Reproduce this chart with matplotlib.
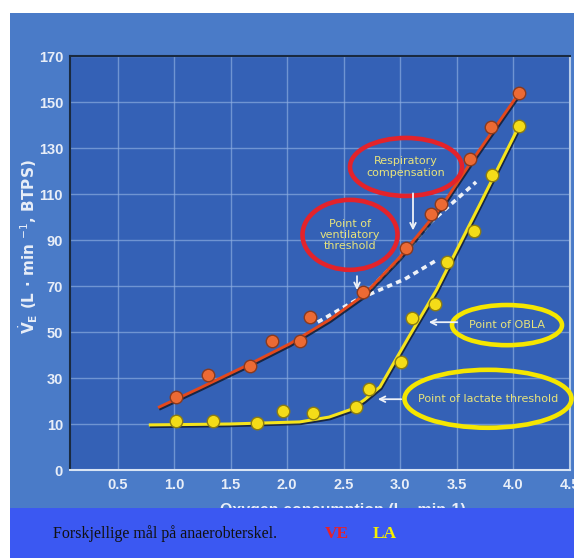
import matplotlib
matplotlib.use('Agg')
import numpy as np
import matplotlib.pyplot as plt
from matplotlib.patches import Ellipse, Rectangle
import matplotlib.patheffects as pe

# VE points (red) - oxygen consumption vs ventilation
ve_x = [1.02, 1.30, 1.67, 1.87, 2.11, 2.20, 2.67, 3.05, 3.27, 3.36, 3.62, 3.80, 4.05]
ve_y = [21.7, 31.3, 35.2, 46.1, 46.1, 56.5, 67.4, 86.5, 101.3, 105.7, 125.2, 139.1, 153.9]

# LA points (yellow)
la_x = [1.02, 1.34, 1.73, 1.96, 2.23, 2.61, 2.72, 3.01, 3.10, 3.31, 3.41, 3.65, 3.81, 4.05]
la_y = [11.3, 11.3, 10.4, 15.7, 14.8, 17.4, 25.2, 37.0, 56.1, 62.2, 80.4, 93.9, 118.3, 139.6]

# fitted lines
ve_fit_x = [0.87, 1.23, 1.67, 2.02, 2.37, 2.67, 2.99, 3.36, 3.62, 4.05]
ve_fit_y = [17.4, 25.7, 36.1, 44.8, 55.2, 65.7, 82.2, 104.3, 123.5, 153.9]
la_fit_x = [0.79, 1.49, 2.11, 2.37, 2.55, 2.68, 2.82, 3.08, 3.32, 3.70, 4.05]
la_fit_y = [9.8, 10.0, 10.9, 13.0, 16.1, 20.4, 26.1, 48.3, 68.3, 105.2, 139.6]

# white dashed extrapolations
dash_low_x = [2.27, 2.61, 3.04, 3.31]
dash_low_y = [54.3, 63.9, 73.0, 80.9]
dash_up_x = [2.68, 3.05, 3.27, 3.67]
dash_up_y = [66.0, 84.8, 97.8, 115.2]

x_ticks = [0.5, 1.0, 1.5, 2.0, 2.5, 3.0, 3.5, 4.0, 4.5]
y_ticks = [0, 10, 30, 50, 70, 90, 110, 130, 150, 170]


# the y axis in the original is uneven: 0-10 takes the same room as 20 units
def fwd(v):
    v = np.asarray(v, dtype=float)
    return np.where(v <= 10, 2 * v, v + 10)


def inv(p):
    p = np.asarray(p, dtype=float)
    return np.where(p <= 20, p / 2, p - 10)


W, H = 574, 558
fig = plt.figure(figsize=(W / 100, H / 100), dpi=100)
fig.patch.set_facecolor('white')

# blue scanned page background
fig.add_artist(Rectangle((10 / W, 0), 1, (H - 13) / H, transform=fig.transFigure,
                         facecolor='#4a7bc8', edgecolor='none', zorder=-5))

ax = fig.add_axes([70 / W, (H - 470) / H, 500 / W, 414 / H])
ax.set_facecolor('#3461b6')
ax.set_yscale('function', functions=(fwd, inv))
ax.set_xlim(0.08, 4.5)
ax.set_ylim(0, 170)
ax.set_xticks(x_ticks)
ax.set_xticklabels(['%.1f' % t for t in x_ticks])
ax.set_yticks(y_ticks)
ax.set_yticklabels([str(t) for t in y_ticks])
ax.minorticks_off()
ax.tick_params(length=0, colors='#e8eef8', labelsize=10.5)
ax.tick_params(axis='y', pad=5)
ax.tick_params(axis='x', pad=6)
for lab in ax.get_xticklabels() + ax.get_yticklabels():
    lab.set_fontweight('bold')
    lab.set_family('Liberation Sans')
ax.grid(True, color='#8fb0e2', linewidth=1, alpha=0.65)
ax.set_axisbelow(True)
ax.spines['left'].set_color('#1a2a40')
ax.spines['top'].set_color('#1a2a40')
ax.spines['bottom'].set_color('#d8e4f4')
ax.spines['right'].set_color('#b8cce8')
for s in ax.spines.values():
    s.set_linewidth(1.5)

shadow = [pe.SimpleLineShadow(offset=(0.8, -1.2), shadow_color='#101828', alpha=0.8), pe.Normal()]

ax.plot(dash_low_x, dash_low_y, color='#eef2f8', lw=2.6, ls=(0, (1.5, 1.2)), zorder=3)
ax.plot(dash_up_x, dash_up_y, color='#eef2f8', lw=2.6, ls=(0, (1.5, 1.2)), zorder=3)
ax.plot(ve_fit_x, ve_fit_y, color='#e4481c', lw=2.1, zorder=4, path_effects=shadow)
ax.plot(la_fit_x, la_fit_y, color='#f5e41c', lw=2.2, zorder=4, path_effects=shadow)

ax.plot(ve_x, ve_y, 'o', ms=9, mfc='#ec6a34', mec='#8a3a1e', mew=1, zorder=5)
ax.plot(la_x, la_y, 'o', ms=9, mfc='#f4dc18', mec='#8c7c12', mew=1, zorder=5)

# annotations: ellipses with text and little white arrows
txt_col = '#e8e47c'
notes = [
    ((0.56, 0.568), 0.19, 0.169, '#e3232b', 'Point of\nventilatory\nthreshold'),
    ((0.672, 0.732), 0.224, 0.140, '#e3232b', 'Respiratory\ncompensation'),
    ((0.874, 0.350), 0.22, 0.097, '#f5e600', 'Point of OBLA'),
    ((0.836, 0.172), 0.334, 0.140, '#f5e600', 'Point of lactate threshold'),
]
for (cx, cy), w, h, col, txt in notes:
    ax.add_patch(Ellipse((cx, cy), w, h, transform=ax.transAxes, fill=False,
                         edgecolor=col, lw=3.3, zorder=6, clip_on=False))
    ax.text(cx, cy, txt, transform=ax.transAxes, ha='center', va='center',
            color=txt_col, fontsize=8, linespacing=1.15, zorder=7)

arrows = [
    ((0.574, 0.475), (0.574, 0.428)),
    ((0.686, 0.675), (0.686, 0.572)),
    ((0.78, 0.357), (0.712, 0.357)),
    ((0.668, 0.171), (0.610, 0.171)),
]
for start, end in arrows:
    ax.annotate('', xy=end, xytext=start, xycoords='axes fraction', textcoords='axes fraction',
                arrowprops=dict(arrowstyle='->', color='#eef2f8', lw=1.3), zorder=7)

fig.text(28 / W, (H - 247) / H, r'$\dot{\mathbf{V}}_{\mathbf{E}}$ (L · min $^{-1}$, BTPS)',
         rotation=90, ha='center', va='center', color='#e8eef8', fontsize=11, fontweight='bold')
fig.text(343 / W, (H - 510) / H, 'Oxygen consumption (L · min-1)', ha='center', va='center',
         color='#e8eef8', fontsize=11.5, fontweight='bold', family='Liberation Sans', zorder=1)

# bottom caption band
fig.add_artist(Rectangle((10 / W, 0), 1, 50 / H, transform=fig.transFigure,
                         facecolor='#3b58f2', edgecolor='none', zorder=10))
fig.text(53 / W, (H - 538) / H, 'Forskjellige mål på anaerobterskel.', family='Liberation Serif',
         fontsize=11.5, color='#111111', va='baseline', zorder=11)
fig.text(325 / W, (H - 538) / H, 'VE', family='Liberation Serif', fontweight='bold',
         fontsize=12.5, color='#e8202a', va='baseline', zorder=11)
fig.text(373 / W, (H - 538) / H, 'LA', family='Liberation Serif', fontweight='bold',
         fontsize=12.5, color='#f5f000', va='baseline', zorder=11)

fig.savefig('out.png', dpi=100)
